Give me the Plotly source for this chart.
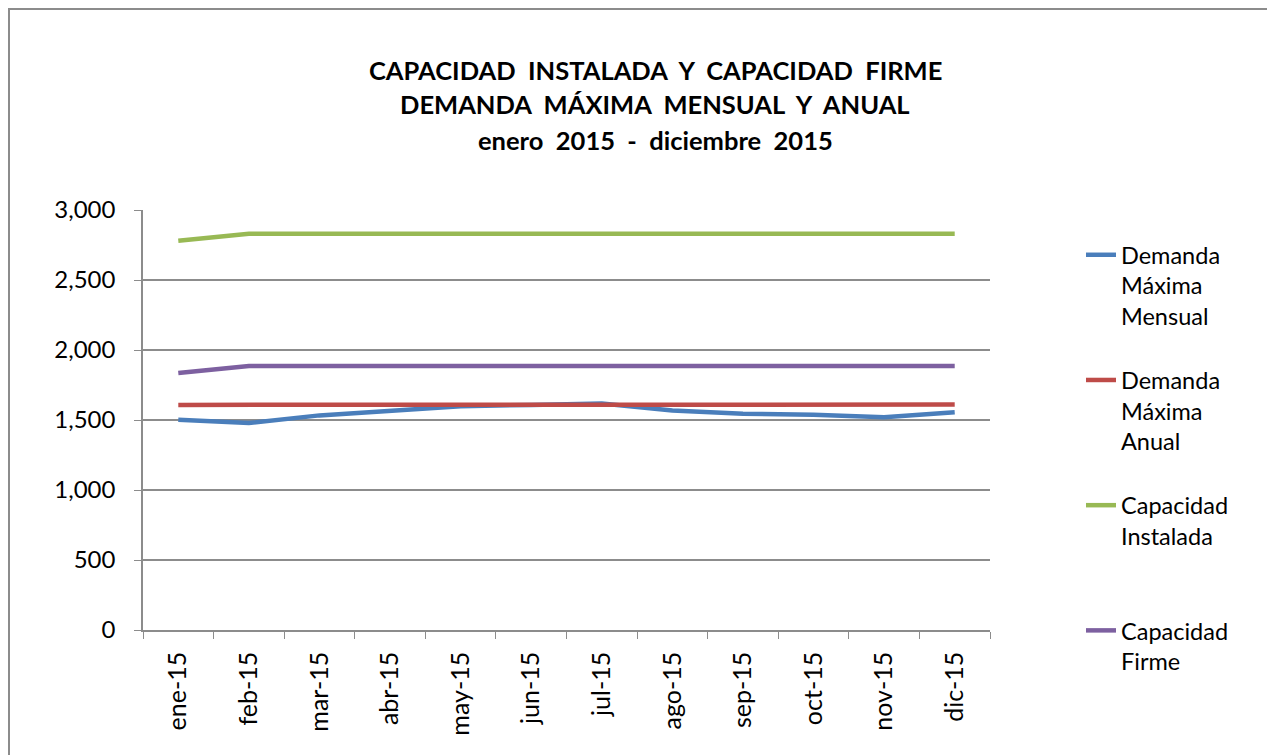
import plotly.graph_objects as go

# months
meses = ["ene-15", "feb-15", "mar-15", "abr-15", "may-15", "jun-15",
         "jul-15", "ago-15", "sep-15", "oct-15", "nov-15", "dic-15"]

# series (MW)
demanda_mensual = [1502, 1478, 1533, 1568, 1598, 1608, 1618, 1568, 1545, 1538, 1520, 1556]
demanda_anual = [1608, 1608, 1608, 1608, 1608, 1608, 1610, 1610, 1610, 1610, 1610, 1610]
cap_instalada = [2780, 2830, 2830, 2830, 2830, 2830, 2830, 2830, 2830, 2830, 2830, 2830]
cap_firme = [1836, 1886, 1886, 1886, 1886, 1886, 1886, 1886, 1886, 1886, 1886, 1886]

nombres = ["Demanda<br>Máxima<br>Mensual<br>&#160;",
           "Demanda<br>Máxima<br>Anual<br>&#160;",
           "Capacidad<br>Instalada<br>&#160;<br>&#160;",
           "Capacidad<br>Firme"]
colores = ["#4a7ebb", "#be4b48", "#98b954", "#7d60a0"]

titulo = ["CAPACIDAD  INSTALADA  Y  CAPACIDAD  FIRME",
          "DEMANDA  MÁXIMA  MENSUAL  Y  ANUAL",
          "enero  2015  -  diciembre  2015"]

FONT = "Lato, Open Sans, sans-serif"

# the page has an 8px body margin, so work in screen pixels and shift
OFF = 8
W, H = 1275 - OFF, 755 - OFF
L, R, T, B = 143 - OFF, 990 - OFF, 210 - OFF, 630 - OFF


def px_x(px):
    return (px - OFF - L) / (R - L)


def px_y(py):
    return (B - (py - OFF)) / (B - T)


fig = go.Figure()
for nombre, serie, color in zip(nombres, [demanda_mensual, demanda_anual, cap_instalada, cap_firme], colores):
    fig.add_trace(go.Scatter(x=meses, y=serie, name=nombre, mode="lines",
                             line=dict(color=color, width=4.5)))

# title lines as separate annotations so the line spacing matches
for texto, yy in zip(titulo, [70, 104, 140]):
    fig.add_annotation(text="<b>" + texto.replace("  ", "&#160; ") + "</b>",
                       xref="paper", yref="paper", x=px_x(655), y=px_y(yy),
                       xanchor="center", yanchor="middle", showarrow=False,
                       font=dict(family=FONT, size=25.5, color="black"))

# outer chart border (only left/top visible in the picture)
fig.add_shape(type="rect", xref="paper", yref="paper",
              x0=px_x(9), x1=px_x(1300), y0=px_y(780), y1=px_y(9),
              line=dict(color="#8c8c8c", width=2), layer="below")

fig.update_layout(
    width=W, height=H,
    margin=dict(l=L, r=W - R, t=T, b=H - B),
    paper_bgcolor="white", plot_bgcolor="white",
    font=dict(family=FONT, size=24, color="black"),
    showlegend=True,
    legend=dict(x=px_x(1081), y=px_y(233), xanchor="left", yanchor="top",
                valign="top", tracegroupgap=0, font=dict(size=23.5),
                maxheight=700, bgcolor="rgba(0,0,0,0)"),
)
fig.update_xaxes(type="category", range=[-0.5, 11.5], tickson="boundaries",
                 ticks="outside", ticklen=7, tickcolor="#8c8c8c", tickangle=-90,
                 ticklabelstandoff=10, showline=True, linecolor="#8c8c8c",
                 linewidth=1.5, showgrid=False, tickfont=dict(size=25))
fig.update_yaxes(range=[0, 3000], dtick=500, tickformat=",d", ticks="outside",
                 ticklen=7, tickcolor="#8c8c8c", ticklabelstandoff=14,
                 showline=True, linecolor="#8c8c8c", linewidth=1.5,
                 gridcolor="#8c8c8c", gridwidth=1.5, zeroline=False,
                 tickfont=dict(size=24))

fig.write_html("out.html")
